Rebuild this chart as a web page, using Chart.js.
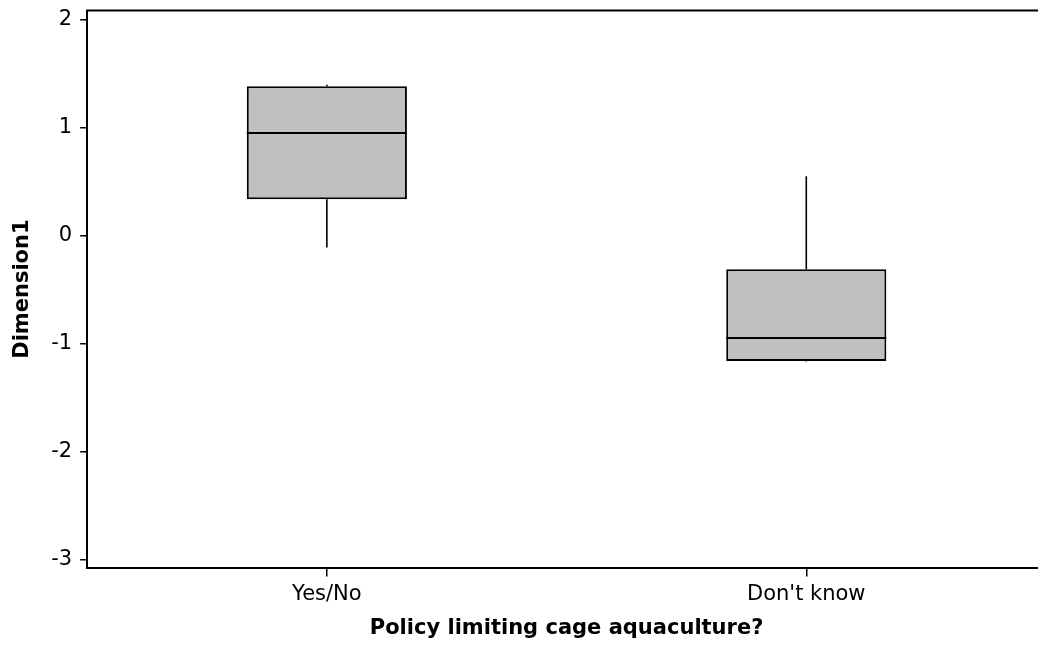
<!DOCTYPE html>
<html>
<head>
<meta charset="utf-8">
<script src="https://cdn.jsdelivr.net/npm/chart.js@4/dist/chart.umd.min.js"></script>
<style>
  html, body { margin: 0; padding: 0; background: #ffffff; overflow: hidden; }
  #wrap { position: relative; width: 1060px; height: 655px; margin-top: -10px; }
</style>
</head>
<body>
<div id="wrap"><canvas id="chart"></canvas></div>
<script>
// Categories on the horizontal axis
const categories = ['Yes/No', "Don't know"];

// Five-number summaries of Dimension1 per category
const whiskerLow  = [-0.110, -1.165];
const quartile1   = [0.336, -1.161];
const medians     = [0.949, -0.948];
const quartile3   = [1.383, -0.311];
const whiskerHigh = [1.396, 0.549];

// Value axis tick labels
const yTicks = [2, 1, 0, -1, -2, -3];

const boxData = categories.map((c, i) => [quartile1[i], quartile3[i]]);

// Draws the median line and whiskers of each box, plus the top frame line
const boxExtras = {
  id: 'boxExtras',
  afterDatasetsDraw(chart) {
    const ctx = chart.ctx;
    const y = chart.scales.y;
    const meta = chart.getDatasetMeta(0);
    ctx.save();
    ctx.strokeStyle = '#000000';
    ctx.lineCap = 'butt';
    meta.data.forEach((bar, i) => {
      const half = bar.width / 2;
      const cx = bar.x;
      // median
      ctx.lineWidth = 2;
      ctx.beginPath();
      const my = y.getPixelForValue(medians[i]);
      ctx.moveTo(cx - half, my);
      ctx.lineTo(cx + half, my);
      ctx.stroke();
      // whiskers
      ctx.lineWidth = 1.6;
      ctx.beginPath();
      ctx.moveTo(cx, y.getPixelForValue(quartile3[i]));
      ctx.lineTo(cx, y.getPixelForValue(whiskerHigh[i]));
      ctx.moveTo(cx, y.getPixelForValue(quartile1[i]));
      ctx.lineTo(cx, y.getPixelForValue(whiskerLow[i]));
      ctx.stroke();
    });
    // top frame line
    const a = chart.chartArea;
    ctx.lineWidth = 2;
    ctx.beginPath();
    ctx.moveTo(a.left - 1, a.top);
    ctx.lineTo(a.right, a.top);
    ctx.stroke();
    ctx.restore();
  }
};

new Chart(document.getElementById('chart'), {
  type: 'bar',
  data: {
    labels: categories,
    datasets: [{
      data: boxData,
      backgroundColor: '#c0c0c0',
      borderColor: '#000000',
      borderWidth: 2,
      borderSkipped: false,
      categoryPercentage: 1,
      barPercentage: 0.334
    }]
  },
  options: {
    responsive: true,
    maintainAspectRatio: false,
    animation: false,
    layout: { padding: { top: 0, right: 14, left: 10, bottom: 4 } },
    plugins: {
      legend: { display: false },
      tooltip: { enabled: false }
    },
    scales: {
      x: {
        type: 'category',
        offset: true,
        border: { display: true, color: '#000000', width: 2 },
        grid: { display: true, drawOnChartArea: false, drawTicks: true, tickLength: 9, color: '#000000', lineWidth: 1.5, offset: false },
        ticks: { color: '#000000', font: { family: 'DejaVu Sans', size: 21 }, padding: 5 },
        title: {
          display: true,
          text: 'Policy limiting cage aquaculture?',
          color: '#000000',
          font: { family: 'DejaVu Sans', size: 21, weight: 'bold' },
          padding: { top: 4, bottom: 0 }
        }
      },
      y: {
        min: -3.074,
        max: 2.083,
        border: { display: true, color: '#000000', width: 2 },
        grid: { display: true, drawOnChartArea: false, drawTicks: true, tickLength: 7, color: '#000000', lineWidth: 1.5 },
        afterBuildTicks(scale) {
          scale.ticks = yTicks.map(v => ({ value: v }));
        },
        ticks: {
          color: '#000000',
          font: { family: 'DejaVu Sans', size: 21 },
          padding: 8,
          callback: v => String(v)
        },
        title: {
          display: true,
          text: 'Dimension1',
          color: '#000000',
          font: { family: 'DejaVu Sans', size: 21, weight: 'bold' },
          padding: { top: 0, bottom: 8 }
        }
      }
    }
  },
  plugins: [boxExtras]
});
</script>
</body>
</html>
